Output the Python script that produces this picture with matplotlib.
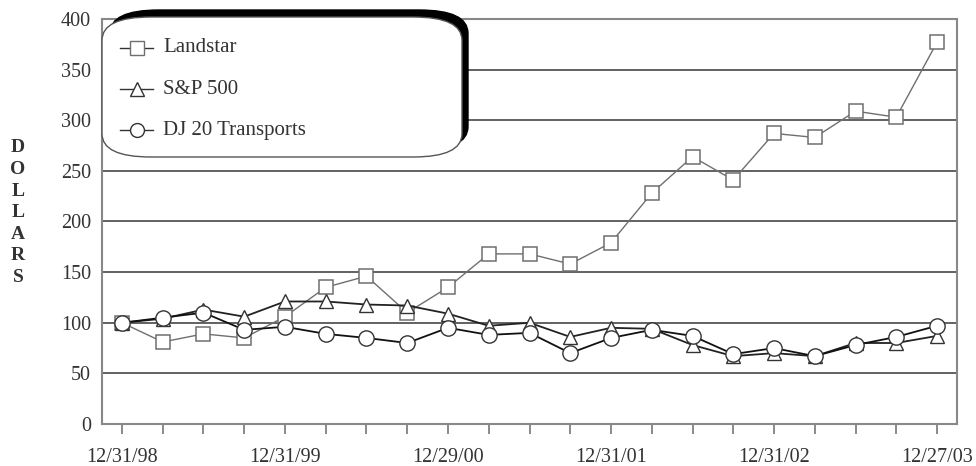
import numpy as np
import matplotlib.pyplot as plt
from matplotlib.patches import FancyBboxPatch
from matplotlib.lines import Line2D

plt.rcParams['font.family'] = ['Liberation Serif', 'DejaVu Serif']

# quarterly points, labels every 4th
dates = ["12/31/98", "", "", "", "12/31/99", "", "", "", "12/29/00", "", "", "",
         "12/31/01", "", "", "", "12/31/02", "", "", "", "12/27/03"]
landstar = [100, 81, 89, 85, 106, 135, 146, 110, 135, 168, 168, 158,
            179, 228, 264, 241, 287, 283, 309, 303, 377]
sp500 = [100, 104, 113, 106, 121, 121, 118, 117, 109, 97, 100, 86,
         95, 94, 78, 67, 70, 67, 80, 80, 87]
dj20 = [100, 105, 110, 93, 96, 89, 85, 80, 95, 88, 90, 70,
        85, 93, 87, 69, 75, 67, 78, 86, 97]

x = np.arange(len(dates))

fig = plt.figure(figsize=(9.76, 4.66), dpi=100)
ax = fig.add_axes([102/976, 42/466, 855/976, 405/466])

grid_c = "#555555"
for v in range(50, 401, 50):
    ax.axhline(v, color=grid_c, lw=1.3, zorder=1)

ax.plot(x, landstar, color="#6f6f6f", lw=1.0, marker="s", ms=10,
        mfc="white", mec="#6f6f6f", mew=1.1, zorder=3)
ax.plot(x, sp500, color="#222222", lw=1.3, marker="^", ms=10,
        mfc="white", mec="#333333", mew=1.0, zorder=4)
ax.plot(x, dj20, color="#111111", lw=1.3, marker="o", ms=11,
        mfc="white", mec="#333333", mew=1.0, zorder=5)

ax.set_xlim(-0.49, 20.49)
ax.set_ylim(0, 400)
ax.set_yticks(range(0, 401, 50))
ax.set_xticks(x)
ax.set_xticklabels(dates)
ax.tick_params(axis="y", length=0, pad=8, labelsize=14.5, colors="#333333")
ax.tick_params(axis="x", length=7, width=1.2, color="#777777", pad=10,
               labelsize=14.5, labelcolor="#333333")
for s in ax.spines.values():
    s.set_color("#888888")
    s.set_linewidth(1.5)

# DOLLARS label, stacked letters
for i, ch in enumerate("DOLLARS"):
    fig.text(18/976, 1 - (148 + i * 21.5)/466, ch, ha="center", va="center",
             fontsize=14, fontweight="bold", color="#333333")

# legend box with shadow
sh = FancyBboxPatch((110/976, 1 - 150/466), 358/976, 140/466,
                    boxstyle="round,pad=0,rounding_size=0.05",
                    transform=fig.transFigure, fc="black", ec="black", zorder=10)
bx = FancyBboxPatch((102/976, 1 - 157/466), 360/976, 140/466,
                    boxstyle="round,pad=0,rounding_size=0.05",
                    transform=fig.transFigure, fc="white", ec="#555555", lw=1.0, zorder=11)
fig.patches.extend([sh, bx])

items = [("Landstar", "s", "#6f6f6f"), ("S&P 500", "^", "#333333"),
         ("DJ 20 Transports", "o", "#333333")]
for i, (name, m, c) in enumerate(items):
    yy = 1 - (48 + i * 41)/466
    fig.add_artist(Line2D([120/976, 153/976], [yy, yy], transform=fig.transFigure,
                          color="#333333", lw=1.0, zorder=12))
    fig.add_artist(Line2D([137/976], [yy], transform=fig.transFigure, marker=m,
                          ms=10, mfc="white", mec=c, mew=1.0, ls="none", zorder=13))
    fig.text(163/976, yy, name, ha="left", va="center", fontsize=15,
             color="#333333", zorder=13)

fig.savefig("out.png", dpi=100)
